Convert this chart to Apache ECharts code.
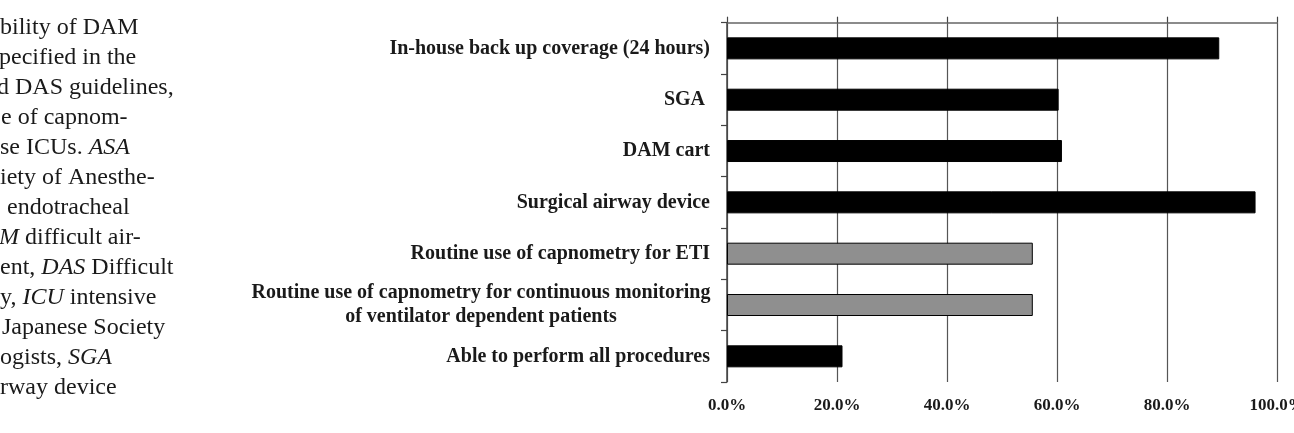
<!DOCTYPE html>
<html>
<head>
<meta charset="utf-8">
<script src="https://cdn.jsdelivr.net/npm/echarts@6/dist/echarts.min.js"></script>
<style>
  html, body { margin: 0; padding: 0; background: #fff; overflow: hidden; }
  #chart { width: 1294px; height: 433px; }
</style>
</head>
<body>
<div id="chart"></div>
<script>
// ---- data ----
const categories = [
  'In-house back up coverage (24 hours)',
  'SGA ',
  'DAM cart',
  'Surgical airway device',
  'Routine use of capnometry for ETI',
  'Routine use of capnometry for continuous monitoring\nof ventilator dependent patients',
  'Able to perform all procedures'
];
const values = [89.5, 60.3, 60.9, 96.1, 55.6, 55.6, 21.0];
const itemKind = ['guideline', 'guideline', 'guideline', 'guideline', 'capnometry', 'capnometry', 'guideline'];
const xTicks = [0, 20, 40, 60, 80, 100];
const captionLines = [
  'bility of DAM',
  'pecified in the',
  'd DAS guidelines,',
  'e of capnom-',
  'se ICUs. {i|ASA}',
  'iety of Anesthe-',
  'endotracheal',
  '{i|M} difficult air-',
  'ent, {i|DAS} Difficult',
  'y, {i|ICU} intensive',
  'Japanese Society',
  'ogists, {i|SGA}',
  'rway device'
];
const captionOffsets = [0, -1, -3, 1, 0, 0, 7, -1, 0, 0, 2, 0, 0];

// ---- styling ----
const kindColor = { guideline: '#000000', capnometry: '#8f8f8f' };
const serif = '"Liberation Serif", "Times New Roman", serif';

const chart = echarts.init(document.getElementById('chart'), null, { renderer: 'canvas' });

const graphics = captionLines.map((t, i) => ({
  type: 'text',
  x: captionOffsets[i],
  y: 28 + 30 * i,
  silent: true,
  style: {
    text: t,
    font: '24px "Liberation Serif"',
    fontSize: 24,
    fontFamily: 'Liberation Serif',
    fill: '#1a1a1a',
    verticalAlign: 'middle',
    align: 'left',
    rich: {
      i: { fontSize: 24, fontFamily: 'Liberation Serif', fontStyle: 'italic', fill: '#1a1a1a' }
    }
  }
}));

const option = {
  animation: false,
  backgroundColor: '#ffffff',
  graphic: graphics,
  grid: { left: 727, right: 17, top: 22.7, bottom: 51, containLabel: false, outerBoundsMode: 'none' },
  xAxis: [
    {
      type: 'value', position: 'bottom', min: xTicks[0], max: xTicks[xTicks.length - 1], interval: 20,
      axisLine: { show: false },
      axisTick: { show: false },
      splitLine: { show: true, lineStyle: { color: '#555', width: 1.2 } },
      axisLabel: {
        margin: 15,
        formatter: v => v.toFixed(1) + '%',
        fontFamily: serif, fontWeight: 'bold', fontSize: 17, color: '#1a1a1a'
      }
    },
    {
      type: 'value', position: 'top', min: xTicks[0], max: xTicks[xTicks.length - 1], interval: 20,
      axisLine: { show: true, lineStyle: { color: '#666', width: 1.5 } },
      axisTick: { show: true, length: 6, lineStyle: { color: '#444', width: 1.2 } },
      splitLine: { show: false },
      axisLabel: { show: false }
    }
  ],
  yAxis: {
    type: 'category',
    inverse: true,
    data: categories,
    axisLine: { show: true, lineStyle: { color: '#444', width: 1.5 } },
    axisTick: { show: true, length: 6, lineStyle: { color: '#444', width: 1.2 } },
    axisLabel: {
      margin: 17,
      fontFamily: serif, fontWeight: 'bold', fontSize: 20, color: '#1a1a1a',
      formatter: function (v) {
        if (v.indexOf('\n') >= 0) {
          return v.split('\n').map(s => '{m|' + s + '}').join('\n');
        }
        return v;
      },
      rich: {
        m: { width: 458, align: 'center', lineHeight: 24, fontFamily: serif, fontWeight: 'bold', fontSize: 20, color: '#1a1a1a' }
      }
    }
  },
  series: [
    {
      type: 'bar',
      xAxisIndex: 0,
      barWidth: 22,
      data: values,
      itemStyle: {
        color: p => kindColor[itemKind[p.dataIndex]],
        borderColor: '#000',
        borderWidth: 1
      }
    }
  ]
};

chart.setOption(option);
</script>
</body>
</html>
